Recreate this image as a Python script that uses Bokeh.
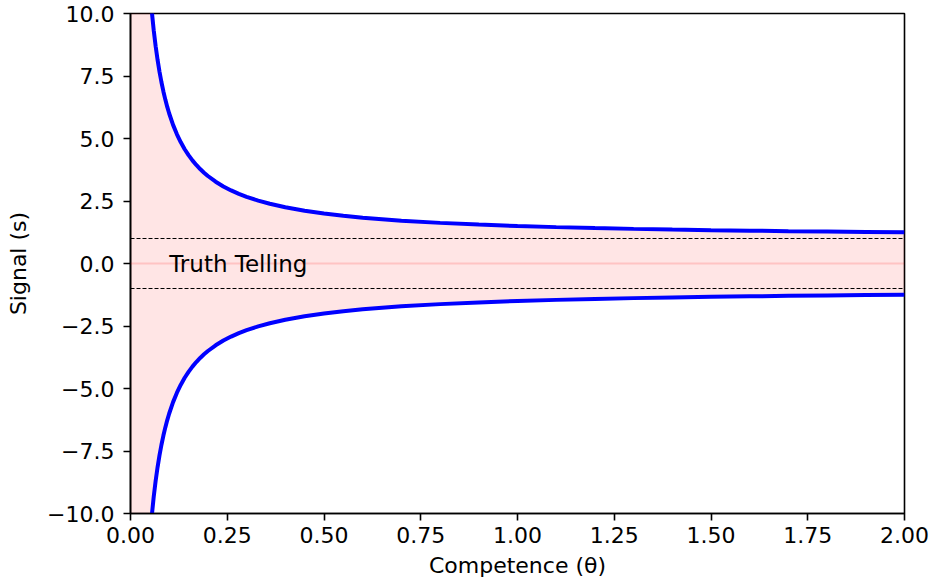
from bokeh.plotting import figure
from bokeh.models import FixedTicker, CustomJSTickFormatter, Span, Range1d, ColumnDataSource, Label
from bokeh.embed import file_html
from bokeh.resources import INLINE

# competence values and the signal thresholds
theta = [0.001, 0.01, 0.02, 0.03, 0.04, 0.045, 0.05, 0.055, 0.06, 0.065,
         0.07, 0.075, 0.08, 0.085, 0.09, 0.095, 0.10, 0.11, 0.12, 0.13,
         0.14, 0.15, 0.16, 0.17, 0.18, 0.19, 0.20, 0.22, 0.24, 0.26,
         0.28, 0.30, 0.33, 0.36, 0.40, 0.45, 0.50, 0.55, 0.60, 0.70,
         0.80, 0.90, 1.00, 1.10, 1.20, 1.30, 1.40, 1.50, 1.60, 1.70,
         1.80, 1.90, 2.00]
upper = [501, 51, 26, 17.667, 13.5, 12.111, 11.0, 10.091, 9.333, 8.692,
         8.143, 7.667, 7.25, 6.882, 6.556, 6.263, 6.0, 5.545, 5.167, 4.846,
         4.571, 4.333, 4.125, 3.941, 3.778, 3.632, 3.5, 3.273, 3.083, 2.923,
         2.786, 2.667, 2.515, 2.389, 2.25, 2.111, 2.0, 1.909, 1.833, 1.714,
         1.625, 1.556, 1.5, 1.455, 1.417, 1.385, 1.357, 1.333, 1.313, 1.294,
         1.278, 1.263, 1.25]
lower = [-501, -51, -26, -17.667, -13.5, -12.111, -11.0, -10.091, -9.333, -8.692,
         -8.143, -7.667, -7.25, -6.882, -6.556, -6.263, -6.0, -5.545, -5.167, -4.846,
         -4.571, -4.333, -4.125, -3.941, -3.778, -3.632, -3.5, -3.273, -3.083, -2.923,
         -2.786, -2.667, -2.515, -2.389, -2.25, -2.111, -2.0, -1.909, -1.833, -1.714,
         -1.625, -1.556, -1.5, -1.455, -1.417, -1.385, -1.357, -1.333, -1.313, -1.294,
         -1.278, -1.263, -1.25]

truth_bounds = [1.0, -1.0]
center_level = 0.0
label_text = "Truth Telling"
label_pos = (0.1, 0.0)

x_ticks = [0.0, 0.25, 0.5, 0.75, 1.0, 1.25, 1.5, 1.75, 2.0]
x_labels = ["0.00", "0.25", "0.50", "0.75", "1.00", "1.25", "1.50", "1.75", "2.00"]
y_ticks = [-10.0, -7.5, -5.0, -2.5, 0.0, 2.5, 5.0, 7.5, 10.0]
y_labels = ["\u221210.0", "\u22127.5", "\u22125.0", "\u22122.5", "0.0", "2.5", "5.0", "7.5", "10.0"]

FONT = "DejaVu Sans"
FS = "22px"

src = ColumnDataSource(data=dict(theta=theta, upper=upper, lower=lower))

p = figure(width=933, height=588, output_backend="svg", toolbar_location=None,
           x_range=Range1d(0, 2), y_range=Range1d(-10, 10),
           min_border_left=130, min_border_right=29, min_border_top=13, min_border_bottom=75)

p.varea(x="theta", y1="lower", y2="upper", source=src, fill_color="red", fill_alpha=0.1)
p.add_layout(Span(location=center_level, dimension="width", line_color="red",
                  line_alpha=0.15, line_width=2))
for b in truth_bounds:
    p.add_layout(Span(location=b, dimension="width", line_color="black",
                      line_width=1, line_dash="4 2"))
p.line(x="theta", y="upper", source=src, line_color="#0000ff", line_width=4)
p.line(x="theta", y="lower", source=src, line_color="#0000ff", line_width=4)

p.add_layout(Label(x=label_pos[0], y=label_pos[1], text=label_text, text_font=FONT,
                   text_font_size="23px", text_color="black", text_baseline="alphabetic"))

p.xgrid.visible = False
p.ygrid.visible = False
p.outline_line_color = "black"
p.outline_line_width = 1.6
p.outline_line_alpha = 1.0

fmt_code = "const i = vals.indexOf(tick); return i >= 0 ? labs[i] : '';"
p.xaxis.ticker = FixedTicker(ticks=x_ticks)
p.xaxis.formatter = CustomJSTickFormatter(args=dict(vals=x_ticks, labs=x_labels), code=fmt_code)
p.yaxis.ticker = FixedTicker(ticks=y_ticks)
p.yaxis.formatter = CustomJSTickFormatter(args=dict(vals=y_ticks, labs=y_labels), code=fmt_code)

p.xaxis.axis_label = "Competence (\u03b8)"
p.yaxis.axis_label = "Signal (s)"

for ax in (p.xaxis[0], p.yaxis[0]):
    ax.axis_line_color = "black"
    ax.axis_line_width = 1.6
    ax.major_tick_line_color = "black"
    ax.major_tick_line_width = 1.6
    ax.major_tick_out = 7
    ax.major_tick_in = 0
    ax.minor_tick_line_color = None
    ax.major_label_text_font = FONT
    ax.major_label_text_font_size = FS
    ax.major_label_text_color = "black"
    ax.axis_label_text_font = FONT
    ax.axis_label_text_font_size = FS
    ax.axis_label_text_font_style = "normal"
    ax.axis_label_text_color = "black"

p.xaxis.major_label_standoff = 6
p.xaxis.axis_label_standoff = 7
p.yaxis.major_label_standoff = 9
p.yaxis.axis_label_standoff = 13

open("out.html", "w").write(file_html(p, INLINE))
